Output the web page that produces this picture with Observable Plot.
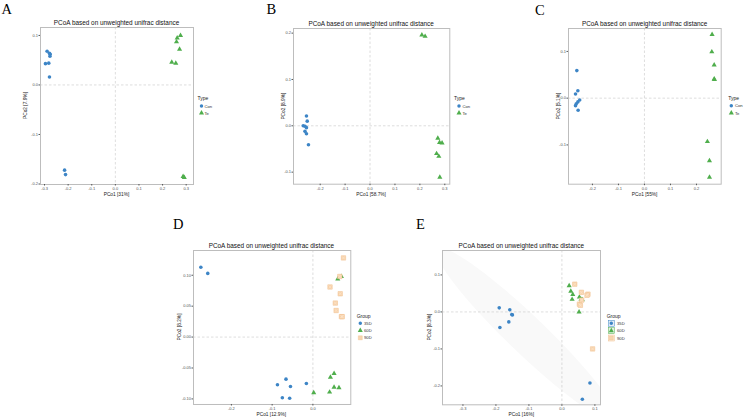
<!DOCTYPE html>
<html><head><meta charset="utf-8">
<script src="https://cdn.jsdelivr.net/npm/d3@7"></script>
<script src="https://cdn.jsdelivr.net/npm/@observablehq/plot@0.6"></script>
<style>
body{margin:0;background:#fff;}
#page{position:relative;width:746px;height:420px;overflow:hidden;background:#fff;}
</style></head><body><div id="page"></div>
<script>
// ---------- DATA ----------
const titleText = "PCoA based on unweighted unifrac distance";
const panelLetters = ["A","B","C","D","E"];

// Panel A
const A_con_x = [-0.289,-0.279,-0.276,-0.277,-0.296,-0.282,-0.279,-0.215,-0.211];
const A_con_y = [0.068,0.064,0.062,0.058,0.043,0.044,0.016,-0.172,-0.181];
const A_te_x  = [0.276,0.262,0.259,0.272,0.239,0.256,0.287,0.292];
const A_te_y  = [0.100,0.095,0.087,0.072,0.046,0.044,-0.185,-0.187];
const A_xTicks = [-0.3,-0.2,-0.1,0.0,0.1,0.2,0.3];
const A_yTicks = [-0.2,-0.1,0.0,0.1];

// Panel B
const B_con_x = [-0.255,-0.252,-0.268,-0.261,-0.255,-0.261,-0.255,-0.247];
const B_con_y = [0.021,0.010,0.000,-0.001,-0.004,-0.012,-0.017,-0.041];
const B_te_x  = [0.208,0.221,0.272,0.279,0.289,0.267,0.276,0.280];
const B_te_y  = [0.196,0.193,-0.027,-0.036,-0.037,-0.060,-0.066,-0.111];
const B_xTicks = [-0.2,-0.1,0.0,0.1,0.2,0.3];
const B_yTicks = [-0.1,0.0,0.1,0.2];

// Panel C
const C_con_x = [-0.260,-0.256,-0.265,-0.249,-0.256,-0.262,-0.265,-0.255];
const C_con_y = [0.059,0.016,0.009,-0.004,-0.008,-0.012,-0.016,-0.026];
const C_te_x  = [0.260,0.259,0.268,0.268,0.269,0.242,0.250,0.250];
const C_te_y  = [0.136,0.099,0.071,0.041,0.040,-0.093,-0.134,-0.169];
const C_xTicks = [-0.2,-0.1,0.0,0.1,0.2];
const C_yTicks = [-0.1,0.0,0.1];

// Panel D
const D_35_x = [-0.275,-0.258,-0.087,-0.066,-0.055,-0.016,-0.075,-0.057];
const D_35_y = [0.113,0.103,-0.077,-0.068,-0.080,-0.075,-0.098,-0.099];
const D_60_x = [0.061,0.070,0.052,0.043,0.052,0.064,0.041,0.002];
const D_60_y = [0.094,0.098,-0.059,-0.065,-0.081,-0.082,-0.089,-0.090];
const D_90_x = [0.075,0.066,0.042,0.067,0.055,0.057,0.070,0.072];
const D_90_y = [0.128,0.098,0.081,0.070,0.055,0.043,0.033,0.033];
const D_xTicks = [-0.2,-0.1,0.0];
const D_yTicks = [-0.10,-0.05,0.00,0.05,0.10];

// Panel E
const E_35_x = [-0.190,-0.158,-0.152,-0.150,-0.188,-0.161,0.085,0.062];
const E_35_y = [0.011,0.006,-0.007,-0.008,-0.042,-0.027,-0.192,-0.236];
const E_60_x = [0.022,0.027,0.033,0.031,0.053,0.058,0.062,0.052];
const E_60_y = [0.071,0.056,0.047,0.034,0.040,0.034,0.033,0.000];
const E_90_x = [0.039,0.059,0.079,0.076,0.053,0.093,0.056,0.060];
const E_90_y = [0.075,0.053,0.048,0.045,0.021,-0.100,0.018,0.032];
const E_xTicks = [-0.3,-0.2,-0.1,0.0,0.1];
const E_yTicks = [-0.2,-0.1,0.0,0.1];

const typeNames = ["Con","Te"];
const groupNames = ["35D","60D","90D"];
const xLabels = ["PCo1 [31%]","PCo1 [58.7%]","PCo1 [55%]","PCo1 [12.9%]","PCo1 [16%]"];
const yLabels = ["PCo2 [7.9%]","PCo2 [8.9%]","PCo2 [5.1%]","PCo2 [8.2%]","PCo2 [8.3%]"];

// ---------- STYLE ----------
const blue = "#3d85c6", green = "#4fae4c", peach = "#f8d5b0", peachDark = "#f1bf8c";
const fmt1 = d => d.toFixed(1), fmt2 = d => d.toFixed(2);
const page = document.getElementById("page");
const rows = (xs, ys) => xs.map((x, i) => ({x, y: ys[i]}));

// 95% normal-theory covariance ellipse computed from a group's points
function ellipse(xs, ys) {
  const n = xs.length, mx = d3.mean(xs), my = d3.mean(ys);
  let sxx = 0, syy = 0, sxy = 0;
  for (let i = 0; i < n; i++) { const dx = xs[i]-mx, dy = ys[i]-my; sxx += dx*dx; syy += dy*dy; sxy += dx*dy; }
  sxx /= n-1; syy /= n-1; sxy /= n-1;
  const tr = sxx + syy, det = sxx*syy - sxy*sxy;
  const l1 = tr/2 + Math.sqrt(tr*tr/4 - det), l2 = tr/2 - Math.sqrt(tr*tr/4 - det);
  const th = Math.atan2(l1 - sxx, sxy);
  const r = Math.sqrt(5.991);
  return d3.range(0, 361, 5).map(a => {
    const t = a*Math.PI/180, u = r*Math.sqrt(l1)*Math.cos(t), v = r*Math.sqrt(l2)*Math.sin(t);
    return {x: mx + u*Math.cos(th) - v*Math.sin(th), y: my + u*Math.sin(th) + v*Math.cos(th)};
  });
}

function symbolMarks(data, shape, color) {
  if (shape === "circle") return [Plot.dot(data, {x:"x", y:"y", symbol:"circle", fill:color, r:1.8})];
  if (shape === "triangle") return [Plot.dot(data, {x:"x", y:"y", symbol:"triangle", fill:color, r:1.9})];
  return [
    Plot.dot(data, {x:"x", y:"y", symbol:"square", fill:peach, stroke:peachDark, strokeWidth:0.5, r:2.5}),
    Plot.dot(data, {x:"x", y:"y", symbol:"times", stroke:"#fce6cf", strokeWidth:0.5, r:1.6})
  ];
}

function drawPanel(cfg) {
  const f = cfg.frame, ml = 22, mr = 4, mt = 4, mb = 12;
  const w = f.r - f.l + ml + mr, h = f.b - f.t + mt + mb;
  const marks = [];
  if (cfg.ellipse) marks.push(Plot.line(cfg.ellipse, {x:"x", y:"y", curve:"linear-closed", fill:"#f9f9f9", stroke:"none", clip:true}));
  marks.push(Plot.ruleX([0], {stroke:"#cfcfcf", strokeWidth:0.7, strokeDasharray:"2.5,2"}));
  marks.push(Plot.ruleY([0], {stroke:"#cfcfcf", strokeWidth:0.7, strokeDasharray:"2.5,2"}));
  marks.push(Plot.frame({stroke:"#bdbdbd", strokeWidth:1}));
  marks.push(Plot.axisX({ticks: cfg.xTicks, tickFormat: cfg.xFmt, tickSize:1.5, tickPadding:1, label:null}));
  marks.push(Plot.axisY({ticks: cfg.yTicks, tickFormat: cfg.yFmt, tickSize:1.5, tickPadding:1, label:null}));
  for (const s of cfg.series) marks.push(...symbolMarks(s.data, s.shape, s.color));
  const svg = Plot.plot({
    width: w, height: h, marginLeft: ml, marginRight: mr, marginTop: mt, marginBottom: mb,
    x: {domain: cfg.xDomain}, y: {domain: cfg.yDomain},
    style: {fontSize: "4px", color: "#555", background: "transparent", fontFamily: "Liberation Sans, Arial, sans-serif", overflow: "visible"},
    marks
  });
  svg.style.position = "absolute";
  svg.style.left = (f.l - ml) + "px";
  svg.style.top = (f.t - mt) + "px";
  page.appendChild(svg);
}

const panels = [
  {frame:{l:40,t:27,r:193,b:184}, xDomain:[-0.317,0.331], yDomain:[-0.201,0.116], xTicks:A_xTicks, yTicks:A_yTicks, xFmt:fmt1, yFmt:fmt1,
   series:[{data:rows(A_con_x,A_con_y), shape:"circle", color:blue},{data:rows(A_te_x,A_te_y), shape:"triangle", color:green}],
   letter:{x:1.5,y:13.5}, ylabX:25.7, legend:{title:"Type", x:197.5, ty:98.5, ys:[106,113], sx:201.5, tx:204.5, names:typeNames, shapes:["circle","triangle"], colors:[blue,green]}},
  {frame:{l:293,t:28.3,r:449.3,b:184}, xDomain:[-0.307,0.320], yDomain:[-0.126,0.21], xTicks:B_xTicks, yTicks:B_yTicks, xFmt:fmt1, yFmt:fmt1,
   series:[{data:rows(B_con_x,B_con_y), shape:"circle", color:blue},{data:rows(B_te_x,B_te_y), shape:"triangle", color:green}],
   letter:{x:266.5,y:14.3}, ylabX:283.3, legend:{title:"Type", x:454, ty:98.5, ys:[106,113], sx:459, tx:462.5, names:typeNames, shapes:["circle","triangle"], colors:[blue,green]}},
  {frame:{l:568.3,t:28.3,r:721,b:184}, xDomain:[-0.292,0.295], yDomain:[-0.184,0.149], xTicks:C_xTicks, yTicks:C_yTicks, xFmt:fmt1, yFmt:fmt1,
   series:[{data:rows(C_con_x,C_con_y), shape:"circle", color:blue},{data:rows(C_te_x,C_te_y), shape:"triangle", color:green}],
   letter:{x:535,y:15}, ylabX:558.3, legend:{title:"Type", x:728.3, ty:98.5, ys:[105.7,113], sx:731.3, tx:735, names:typeNames, shapes:["circle","triangle"], colors:[blue,green]}},
  {frame:{l:192.7,t:250,r:350,b:404}, xDomain:[-0.293,0.093], yDomain:[-0.109,0.140], xTicks:D_xTicks, yTicks:D_yTicks, xFmt:fmt1, yFmt:fmt2,
   series:[{data:rows(D_35_x,D_35_y), shape:"circle", color:blue},{data:rows(D_60_x,D_60_y), shape:"triangle", color:green},{data:rows(D_90_x,D_90_y), shape:"square", color:peach}],
   letter:{x:173,y:228.5}, ylabX:179, legend:{title:"Group", x:356.7, ty:316.5, ys:[323.3,330.5,337.8], sx:360.3, tx:364, names:groupNames, shapes:["circle","triangle","square"], colors:[blue,green,peach]}},
  {frame:{l:442.3,t:250,r:600.3,b:404.3}, xDomain:[-0.362,0.117], yDomain:[-0.251,0.166], xTicks:E_xTicks, yTicks:E_yTicks, xFmt:fmt1, yFmt:fmt1,
   ellipse: ellipse(E_35_x, E_35_y),
   series:[{data:rows(E_35_x,E_35_y), shape:"circle", color:blue},{data:rows(E_60_x,E_60_y), shape:"triangle", color:green},{data:rows(E_90_x,E_90_y), shape:"square", color:peach}],
   letter:{x:416,y:228.5}, ylabX:429.3, legend:{title:"Group", x:606.7, ty:316.5, ys:[323.3,330.7,338], sx:611.3, tx:617, boxed:true, names:groupNames, shapes:["circle","triangle","square"], colors:[blue,green,peach]}}
];

panels.forEach(drawPanel);

// ---------- ANNOTATIONS (letters, titles, axis titles, legends) ----------
const ov = d3.select(page).append("svg")
  .attr("width", 746).attr("height", 420)
  .style("position", "absolute").style("left", 0).style("top", 0)
  .style("font-family", "Liberation Sans, Arial, sans-serif");

const symPath = (shape, size) => d3.symbol(shape === "circle" ? d3.symbolCircle : shape === "triangle" ? d3.symbolTriangle : d3.symbolSquare, size)();

panels.forEach((p, i) => {
  const f = p.frame, cx = (f.l + f.r) / 2, cy = (f.t + f.b) / 2;
  ov.append("text").attr("x", p.letter.x).attr("y", p.letter.y)
    .attr("font-family", "Liberation Serif, Times New Roman, serif").attr("font-size", 14.5).attr("fill", "#000").text(panelLetters[i]);
  ov.append("text").attr("x", cx).attr("y", f.t - 2).attr("text-anchor", "middle")
    .attr("font-size", 6.4).attr("fill", "#111").text(titleText);
  ov.append("text").attr("x", cx).attr("y", f.b + 11.5).attr("text-anchor", "middle")
    .attr("font-size", 4.8).attr("fill", "#222").text(xLabels[i]);
  ov.append("text").attr("transform", `translate(${p.ylabX + 1.7},${cy}) rotate(-90)`).attr("text-anchor", "middle")
    .attr("font-size", 4.8).attr("fill", "#222").text(yLabels[i]);
  const L = p.legend;
  ov.append("text").attr("x", L.x).attr("y", L.ty + 1.7).attr("font-size", 5).attr("fill", "#222").text(L.title);
  L.names.forEach((nm, j) => {
    const g = ov.append("g").attr("transform", `translate(${L.sx},${L.ys[j]})`);
    if (L.boxed) {
      g.append("rect").attr("x", -3).attr("y", -3).attr("width", 6).attr("height", 6)
        .attr("fill", j === 0 ? "#e3edf7" : j === 1 ? "#e4f2e3" : "#fdf1e4")
        .attr("stroke", j === 2 ? peachDark : L.colors[j]).attr("stroke-width", 0.5);
    }
    if (L.shapes[j] === "square") {
      g.append("path").attr("d", symPath("square", 16)).attr("fill", peach).attr("stroke", peachDark).attr("stroke-width", 0.4);
    } else {
      g.append("path").attr("d", symPath(L.shapes[j], L.shapes[j] === "circle" ? 9.5 : 11)).attr("fill", L.colors[j]);
    }
    ov.append("text").attr("x", L.tx).attr("y", L.ys[j] + 1.5).attr("font-size", 4.2).attr("fill", "#333").text(nm);
  });
});
</script></body></html>
